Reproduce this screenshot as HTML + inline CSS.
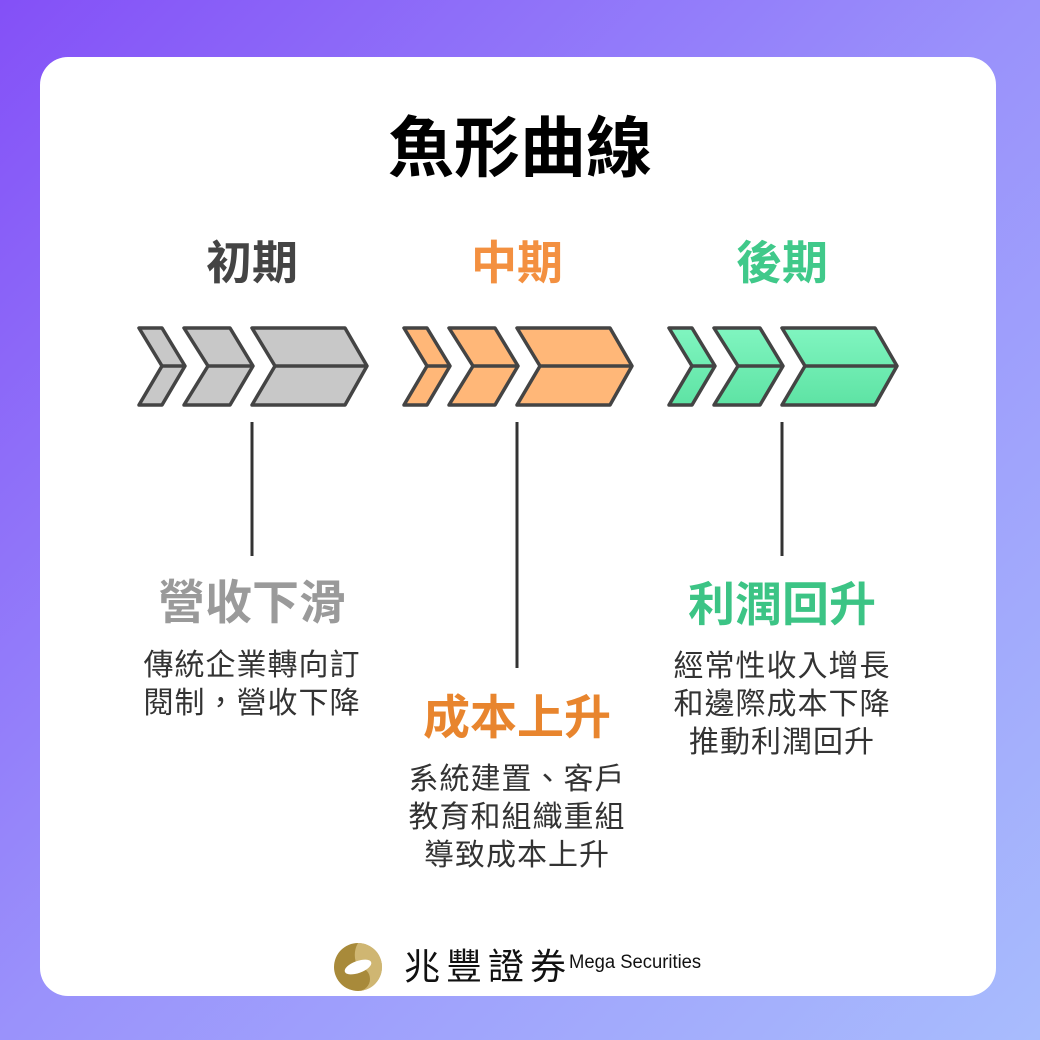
<!DOCTYPE html>
<html><head><meta charset="utf-8"><style>
body{margin:0;width:1040px;height:1040px;overflow:hidden;background:linear-gradient(135deg,#8450f7 0%,#9a92fb 50%,#a8bcfd 100%);font-family:"Liberation Sans","Noto Sans CJK TC",sans-serif;}
.card{position:absolute;left:40px;top:57px;width:956px;height:939px;background:#fff;border-radius:28px;}
.t{position:absolute;text-align:center;font-weight:bold;white-space:nowrap;}
.d{position:absolute;text-align:center;font-size:30px;letter-spacing:1px;line-height:38px;color:#333;white-space:nowrap;}
</style></head><body>
<div class="card"></div>
<div class="t" style="left:0;width:1040px;top:108px;font-size:66px;color:#000;line-height:80px">魚形曲線</div>
<div class="t" style="left:152px;width:200px;top:235px;font-size:46px;color:#444;line-height:56px">初期</div>
<div class="t" style="left:417px;width:200px;top:235px;font-size:46px;color:#f39040;line-height:56px">中期</div>
<div class="t" style="left:682px;width:200px;top:235px;font-size:46px;color:#40c98a;line-height:56px">後期</div>
<svg width="1040" height="1040" style="position:absolute;left:0;top:0">
<defs>
<g id="ch" stroke="#444" stroke-width="3.5" stroke-linejoin="round">
<polygon points="139,328 162,328 185,366 162,405 139,405 162,366"/>
<polygon points="184,328 230,328 253,366 230,405 184,405 208,366"/>
<polygon points="252,328 345,328 367,366 345,405 252,405 275,366"/>
<path d="M162,366H185M208,366H253M275,366H367" fill="none"/>
</g>
<linearGradient id="gg" x1="0" y1="0" x2="0" y2="1"><stop offset="0" stop-color="#80f5c0"/><stop offset="1" stop-color="#5ee3a4"/></linearGradient>
</defs>
<use href="#ch" fill="#c8c8c8"/>
<use href="#ch" fill="#ffb778" transform="translate(265,0)"/>
<use href="#ch" fill="url(#gg)" transform="translate(530,0)"/>
<g stroke="#333" stroke-width="3">
<line x1="252" y1="422" x2="252" y2="556"/>
<line x1="517" y1="422" x2="517" y2="668"/>
<line x1="782" y1="422" x2="782" y2="556"/>
</g>
<circle cx="358" cy="967" r="24" fill="#a88a3a"/>
<path d="M358,943a24,24 0 0 0 0,24a12,12 0 0 1 0,24a24,24 0 0 0 0,-48z" fill="#e0c98a" opacity=".7"/>
<ellipse cx="358" cy="967" rx="14" ry="6" fill="#fff" transform="rotate(-20 358 967)"/>
</svg>
<div class="t" style="left:102px;width:300px;top:573px;font-size:47px;color:#9a9a9a;line-height:60px">營收下滑</div>
<div class="d" style="left:102px;width:300px;top:647px">傳統企業轉向訂<br>閱制，營收下降</div>
<div class="t" style="left:367px;width:300px;top:688px;font-size:47px;color:#e8852e;line-height:60px">成本上升</div>
<div class="d" style="left:367px;width:300px;top:761px">系統建置、客戶<br>教育和組織重組<br>導致成本上升</div>
<div class="t" style="left:632px;width:300px;top:575px;font-size:47px;color:#3cc485;line-height:60px">利潤回升</div>
<div class="d" style="left:632px;width:300px;top:648px">經常性收入增長<br>和邊際成本下降<br>推動利潤回升</div>
<div style="position:absolute;left:404px;top:944px;font-size:36px;line-height:46px;color:#111;letter-spacing:6px;white-space:nowrap">兆豐證券</div>
<div style="position:absolute;left:569px;top:950px;font-size:19px;line-height:26px;color:#111;white-space:nowrap;transform:scaleX(.97);transform-origin:left">Mega Securities</div>
</body></html>
